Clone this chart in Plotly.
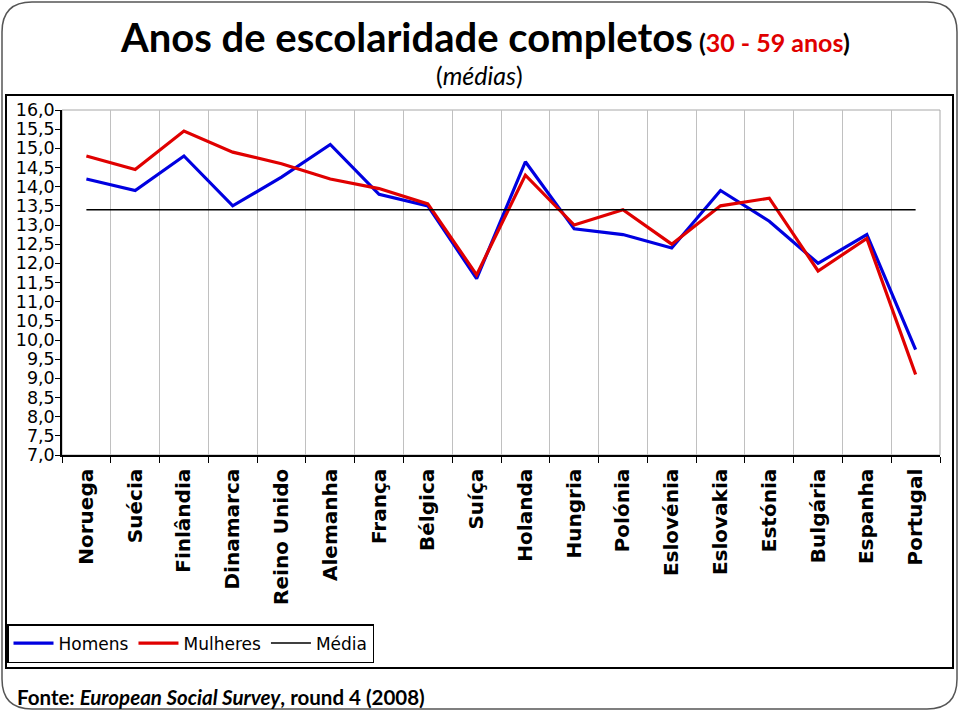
import plotly.graph_objects as go

# ---------------- data ----------------
paises = ["Noruega", "Suécia", "Finlândia", "Dinamarca", "Reino Unido", "Alemanha",
          "França", "Bélgica", "Suíça", "Holanda", "Hungria", "Polónia",
          "Eslovénia", "Eslovakia", "Estónia", "Bulgária", "Espanha", "Portugal"]
homens = [14.2, 13.9, 14.8, 13.5, 14.25, 15.1, 13.8, 13.5, 11.6, 14.65,
          12.9, 12.75, 12.4, 13.9, 13.1, 12.0, 12.75, 9.75]
mulheres = [14.8, 14.45, 15.45, 14.9, 14.6, 14.2, 13.95, 13.55, 11.7, 14.3,
            13.0, 13.4, 12.5, 13.5, 13.7, 11.8, 12.65, 9.1]
media = 13.4
y_ticks = [7.0 + 0.5 * i for i in range(19)]

# ---------------- geometry helpers (pixels -> paper) ----------------
W, H = 960, 712
L, R, T, B = 62, 940, 110, 455
PW, PH = R - L, B - T


def px(x):
    return (x - L) / PW


def py(y):
    return (B - y) / PH


fig = go.Figure()
fig.add_trace(go.Scatter(x=paises, y=homens, mode="lines", name="Homens",
                         line=dict(color="#0000e0", width=3.2)))
fig.add_trace(go.Scatter(x=paises, y=mulheres, mode="lines", name="Mulheres",
                         line=dict(color="#e00000", width=3.2)))
fig.add_trace(go.Scatter(x=paises, y=[media] * len(paises), mode="lines", name="Média",
                         line=dict(color="black", width=1.5)))

# rounded outer frame
x0, y0, x1, y1, r = 2, 2, 957, 709, 30
rx, ry = r / PW, r / PH
X0, X1, Y0, Y1 = px(x0), px(x1), py(y0), py(y1)
path = (f"M {X0+rx},{Y0} L {X1-rx},{Y0} Q {X1},{Y0} {X1},{Y0-ry} "
        f"L {X1},{Y1+ry} Q {X1},{Y1} {X1-rx},{Y1} "
        f"L {X0+rx},{Y1} Q {X0},{Y1} {X0},{Y1+ry} "
        f"L {X0},{Y0-ry} Q {X0},{Y0} {X0+rx},{Y0} Z")

shapes = [
    dict(type="path", xref="paper", yref="paper", path=path,
         line=dict(color="#555555", width=1.5), layer="below"),
    dict(type="rect", xref="paper", yref="paper", x0=px(6), x1=px(953), y0=py(95), y1=py(668),
         line=dict(color="black", width=2), layer="below"),
    dict(type="rect", xref="paper", yref="paper", x0=0, x1=1, y0=0, y1=1,
         line=dict(color="#a8a8a8", width=1), layer="below"),
]

annotations = [
    dict(xref="paper", yref="paper", x=px(485), y=py(37), xanchor="center", yanchor="middle",
         showarrow=False,
         text=("<b>Anos de escolaridade completos<span style='font-size:25px'> (<span style='color:#e00000'>"
               "30 - 59 anos</span>)</span></b>"),
         font=dict(family="Lato", size=40, color="black")),
    dict(xref="paper", yref="paper", x=px(479), y=py(75), xanchor="center", yanchor="middle",
         showarrow=False, text="(<i>médias</i>)",
         font=dict(family="Lato", size=25, color="black")),
    dict(xref="paper", yref="paper", x=px(15), y=py(697), xanchor="left", yanchor="middle",
         showarrow=False, text="<b>Fonte: <i>European Social Survey</i>, round 4 (2008)</b>",
         font=dict(family="Lato", size=20.5, color="black")),
]

fig.update_layout(
    width=W, height=H,
    margin=dict(l=L, r=W - R, t=T, b=H - B, autoexpand=False),
    paper_bgcolor="white", plot_bgcolor="white",
    separators=",.",
    showlegend=True,
    legend=dict(orientation="h", x=px(7), y=py(624), xanchor="left", yanchor="top",
                bordercolor="black", borderwidth=1.5, bgcolor="white",
                font=dict(family="DejaVu Sans", size=17, color="black"),
                itemwidth=40, traceorder="normal"),
    xaxis=dict(type="category", range=[-0.5, len(paises) - 0.5], tickson="boundaries",
               showgrid=True, gridcolor="#c0c0c0", gridwidth=1,
               showline=True, linecolor="black", linewidth=1.5,
               ticks="outside", ticklen=6, tickcolor="black",
               tickangle=-90, ticklabelstandoff=4,
               tickfont=dict(family="DejaVu Sans", size=20, color="black", weight="bold"),
               zeroline=False, fixedrange=True),
    yaxis=dict(range=[7, 16], tickvals=y_ticks, tickformat=".1f",
               showgrid=False, zeroline=False,
               showline=True, linecolor="black", linewidth=1.5,
               ticks="outside", ticklen=5, tickcolor="black", ticklabelstandoff=-3,
               tickfont=dict(family="DejaVu Sans", size=17.5, color="black")),
    shapes=shapes,
    annotations=annotations,
)

fig.write_html("out.html", config={"displayModeBar": False},
               post_script="document.body.style.margin='0';")
